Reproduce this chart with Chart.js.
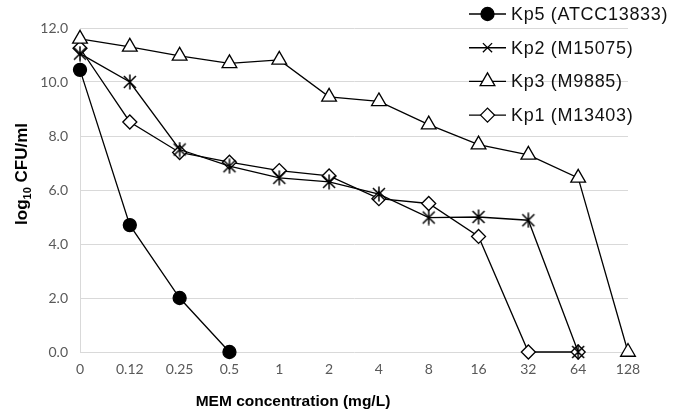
<!DOCTYPE html>
<html><head><meta charset="utf-8">
<script src="https://cdn.jsdelivr.net/npm/chart.js@4.4.1/dist/chart.umd.min.js"></script>
<style>html,body{margin:0;padding:0;background:#fff}#wrap{width:684px;height:417px;position:relative}</style>
</head><body><div id="wrap"><canvas id="c" width="684" height="417"></canvas></div>
<script>
// ---- data ----
const categories = ['0','0.12','0.25','0.5','1','2','4','8','16','32','64','128'];
const kp5 = [10.45, 4.7, 2.0, 0.0, null, null, null, null, null, null, null, null];
const kp2 = [11.05, 10.0, 7.5, 6.88, 6.45, 6.3, 5.85, 4.98, 5.0, 4.88, 0.0, null];
const kp3 = [11.6, 11.3, 10.97, 10.69, 10.82, 9.45, 9.28, 8.42, 7.68, 7.3, 6.45, 0.0];
const kp1 = [11.25, 8.52, 7.39, 7.03, 6.72, 6.52, 5.68, 5.5, 4.28, 0.0, 0.0, null];
const seriesNames = ['Kp5 (ATCC13833)', 'Kp2 (M15075)', 'Kp3 (M9885)', 'Kp1 (M13403)'];
const yMin = 0, yMax = 12, yStep = 2;
const xTitle = 'MEM concentration (mg/L)';
const yTitleParts = ['log', '10', ' CFU/ml'];

const tickFont = {family: 'Lato, "Open Sans", sans-serif', size: 14};
const tickColor = '#595959';
const gridColor = '#d9d9d9';

// asterisk marker (X plus vertical bar), like the spreadsheet "star" marker
const star = document.createElement('canvas');
star.width = 16; star.height = 16;
(function () {
  const c = star.getContext('2d');
  c.strokeStyle = '#000'; c.lineWidth = 1.5;
  c.beginPath();
  c.moveTo(2, 2); c.lineTo(14, 14);
  c.moveTo(14, 2); c.lineTo(2, 14);
  c.moveTo(8, 0.5); c.lineTo(8, 15.5);
  c.stroke();
})();

function mk(label, data, style, fill, radius, legendStyle) {
  return {
    label, data,
    borderColor: '#000', borderWidth: 1.3,
    pointStyle: style, pointRadius: radius, pointHoverRadius: radius,
    pointBackgroundColor: fill, pointBorderColor: '#000', pointBorderWidth: 1.3,
    tension: 0, spanGaps: false, fill: false, clip: false,
    legendStyle: legendStyle || style
  };
}

const overlay = {
  id: 'overlay',
  afterDraw(chart) {
    const ctx = chart.ctx;
    ctx.save();
    // legend
    chart.data.datasets.forEach((ds, i) => {
      const y = 14 + i * 33.7;
      ctx.strokeStyle = '#000';
      ctx.lineWidth = 1.4;
      ctx.beginPath(); ctx.moveTo(469, y); ctx.lineTo(506, y); ctx.stroke();
      ctx.fillStyle = ds.pointBackgroundColor;
      ctx.lineWidth = 1.3;
      const r = ds.legendStyle === 'crossRot' ? 6.5 : ds.pointRadius;
      Chart.helpers.drawPoint(ctx, {pointStyle: ds.legendStyle, radius: r, borderWidth: 1.3, rotation: 0}, 487.5, y);
      ctx.fillStyle = '#111';
      ctx.font = '18px "Liberation Sans", Arial, sans-serif';
      ctx.letterSpacing = '0.7px';
      ctx.textAlign = 'left';
      ctx.textBaseline = 'middle';
      ctx.fillText(ds.label, 511, y + 1);
      ctx.letterSpacing = '0px';
    });
    // x title
    ctx.fillStyle = '#000';
    ctx.font = 'bold 15.5px "Liberation Sans", Arial, sans-serif';
    ctx.textAlign = 'center';
    ctx.textBaseline = 'middle';
    ctx.fillText(xTitle, 293, 402);
    // y title
    ctx.translate(27, 174);
    ctx.rotate(-Math.PI / 2);
    ctx.textBaseline = 'alphabetic';
    ctx.textAlign = 'left';
    const big = 'bold 17px "Liberation Sans", Arial, sans-serif';
    const small = 'bold 11px "Liberation Sans", Arial, sans-serif';
    ctx.font = big; const w0 = ctx.measureText(yTitleParts[0]).width;
    ctx.font = small; const w1 = ctx.measureText(yTitleParts[1]).width;
    ctx.font = big; const w2 = ctx.measureText(yTitleParts[2]).width;
    let x = -(w0 + w1 + w2) / 2;
    ctx.font = big; ctx.fillText(yTitleParts[0], x, 0); x += w0;
    ctx.font = small; ctx.fillText(yTitleParts[1], x, 4); x += w1;
    ctx.font = big; ctx.fillText(yTitleParts[2], x, 0);
    ctx.restore();
  }
};

new Chart(document.getElementById('c'), {
  type: 'line',
  data: {
    labels: categories,
    datasets: [
      mk(seriesNames[0], kp5, 'circle', '#000', 6.5),
      mk(seriesNames[1], kp2, star, '#fff', 8, 'crossRot'),
      mk(seriesNames[2], kp3, 'triangle', '#fff', 8.5),
      mk(seriesNames[3], kp1, 'rectRot', '#fff', 7)
    ]
  },
  options: {
    responsive: false,
    animation: false,
    devicePixelRatio: 1,
    layout: {padding: {left: 0, right: 56, top: 28, bottom: 0}},
    plugins: {legend: {display: false}, tooltip: {enabled: false}, title: {display: false}},
    scales: {
      x: {
        type: 'category',
        offset: false,
        grid: {display: false, drawTicks: false},
        border: {display: false},
        ticks: {font: tickFont, color: tickColor, padding: 9, maxRotation: 0, autoSkip: false},
        afterFit(scale) { scale.height = 65; }
      },
      y: {
        min: yMin, max: yMax,
        grid: {color: gridColor, lineWidth: 1, drawTicks: false},
        border: {display: true, color: gridColor, width: 1},
        ticks: {stepSize: yStep, font: tickFont, color: tickColor, padding: 12,
          callback: v => Number(v).toFixed(1)},
        afterFit(scale) { scale.width = 80; }
      }
    }
  },
  plugins: [overlay]
});
</script>
</body></html>
